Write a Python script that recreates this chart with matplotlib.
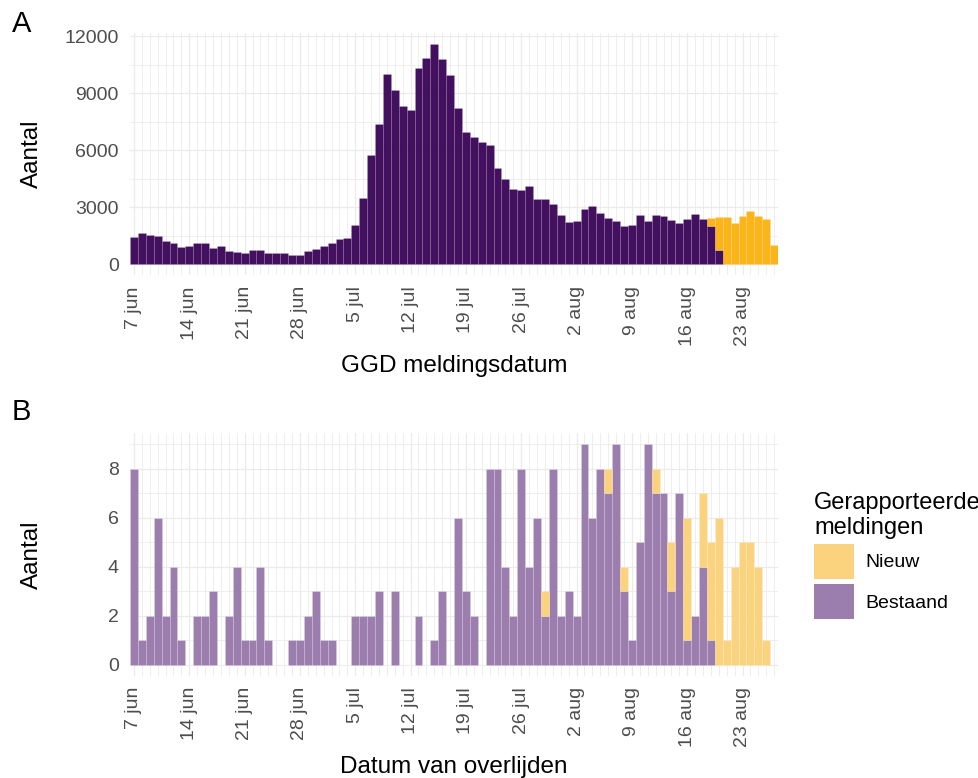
import pandas as pd
import matplotlib
matplotlib.use("Agg")
import matplotlib.pyplot as plt
from matplotlib.patches import Patch

plt.rcParams['font.family'] = ['Liberation Sans', 'DejaVu Sans']

# panel A: GGD meldingsdatum, 7 jun - 27 aug
dates_a = pd.date_range('2021-06-07', '2021-08-27')
bestaand_a = [1440, 1660, 1520, 1490, 1240, 1090, 910, 960, 1100, 1120,
              860, 950, 670, 610, 560, 720, 740, 600, 580, 580,
              490, 490, 700, 790, 960, 1100, 1310, 1370, 2080, 3470,
              5730, 7370, 10030, 9160, 8350, 8110, 10330, 10860, 11610, 10800,
              9980, 8210, 6970, 6700, 6460, 6270, 5080, 4500, 3980, 3920,
              4120, 3450, 3450, 3150, 2570, 2210, 2260, 2920, 3060, 2710,
              2450, 2290, 2000, 2070, 2610, 2290, 2570, 2550, 2340, 2150,
              2380, 2650, 2400, 2010, 720, 0, 0, 0, 0, 0, 0, 0]
nieuw_a = [0] * 73 + [400, 1760, 2500, 2150, 2510, 2820, 2540, 2370, 1010]

# panel B: datum van overlijden, 7 jun - 26 aug
dates_b = pd.date_range('2021-06-07', '2021-08-26')
bestaand_b = [8, 1, 2, 6, 2, 4, 1, 0, 2, 2, 3, 0, 2, 4, 1, 1, 4, 1, 0, 0,
              1, 1, 2, 3, 1, 1, 0, 0, 2, 2, 2, 3, 0, 3, 0, 0, 2, 0, 1, 3,
              0, 6, 3, 2, 0, 8, 8, 4, 2, 8, 4, 6, 2, 8, 2, 3, 2, 9, 6, 8,
              7, 9, 3, 1, 5, 9, 7, 7, 3, 7, 1, 2, 4, 1, 0, 0, 0, 0, 0, 0, 0]
nieuw_b = [0] * 52 + [1, 0, 0, 0, 0, 0, 0, 0, 1, 0, 1, 0, 0, 0, 1, 0, 2, 0,
                      5, 0, 3, 4, 6, 1, 4, 5, 5, 4, 1]

maanden = {6: 'jun', 7: 'jul', 8: 'aug'}
week_ticks = pd.date_range('2021-06-07', '2021-08-23', freq='7D')
week_labels = [f"{d.day} {maanden[d.month]}" for d in week_ticks]

purple_a, yellow_a = '#42105F', '#FBB41A'
purple_b, yellow_b = '#9B7DAE', '#FBD37E'
grid_col = '#EBEBEB'
tick_col = '#4D4D4D'

fig = plt.figure(figsize=(9.79, 7.78), dpi=100)
ax_a = fig.add_axes([0.1328, 0.6465, 0.662, 0.311])
ax_b = fig.add_axes([0.1328, 0.1311, 0.662, 0.3123])


def style(ax, yticks, yminor, ylim, xlabel):
    ax.set_xlim(dates_a[0] - pd.Timedelta(hours=12), dates_a[-1] + pd.Timedelta(hours=12))
    ax.set_ylim(*ylim)
    ax.set_xticks(week_ticks)
    ax.set_xticklabels(week_labels, rotation=90, fontsize=14, color=tick_col)
    ax.set_xticks(dates_a, minor=True)
    ax.set_yticks(yticks)
    ax.set_yticklabels([str(v) for v in yticks], fontsize=14, color=tick_col)
    ax.set_yticks(yminor, minor=True)
    ax.tick_params(which='both', length=0)
    ax.tick_params(axis='x', pad=8)
    ax.tick_params(axis='y', pad=8)
    ax.grid(which='major', color=grid_col, linewidth=0.9)
    ax.grid(which='minor', color=grid_col, linewidth=0.6)
    ax.set_axisbelow(True)
    for s in ax.spines.values():
        s.set_visible(False)
    ax.set_ylabel('Aantal', fontsize=17.5)
    ax.yaxis.set_label_coords(-0.135, 0.5)
    ax.set_xlabel(xlabel, fontsize=17.5)
    ax.xaxis.set_label_coords(0.5, -0.33)


ax_a.bar(dates_a, bestaand_a, width=1, color=purple_a, edgecolor=(1, 1, 1, 0.12), linewidth=0.4)
ax_a.bar(dates_a, nieuw_a, width=1, bottom=bestaand_a, color=yellow_a, edgecolor=(1, 1, 1, 0.12), linewidth=0.4)
style(ax_a, [0, 3000, 6000, 9000, 12000], [1500, 4500, 7500, 10500], (-580, 12180),
      'GGD meldingsdatum')

ax_b.bar(dates_b, bestaand_b, width=1, color=purple_b, edgecolor=(1, 1, 1, 0.25), linewidth=0.4)
ax_b.bar(dates_b, nieuw_b, width=1, bottom=bestaand_b, color=yellow_b, edgecolor=(1, 1, 1, 0.25), linewidth=0.4)
style(ax_b, [0, 2, 4, 6, 8], [1, 3, 5, 7, 9], (-0.45, 9.45), 'Datum van overlijden')

fig.text(12 / 979, 1 - 10 / 778, 'A', fontsize=21, va='top', ha='left')
fig.text(12 / 979, 1 - 398 / 778, 'B', fontsize=21, va='top', ha='left')

handles = [Patch(facecolor=yellow_b, edgecolor='none'), Patch(facecolor=purple_b, edgecolor='none')]
leg = fig.legend(handles, ['Nieuw', 'Bestaand'], title='Gerapporteerde\nmeldingen',
                 loc='upper left', bbox_to_anchor=(814 / 979, 1 - 492 / 778),
                 frameon=False, fontsize=14, title_fontsize=17,
                 handlelength=2.05, handleheight=2.45, labelspacing=0.22,
                 handletextpad=0.6, borderpad=0, borderaxespad=0, alignment='left')

fig.savefig('out.png', dpi=100, facecolor='white')
